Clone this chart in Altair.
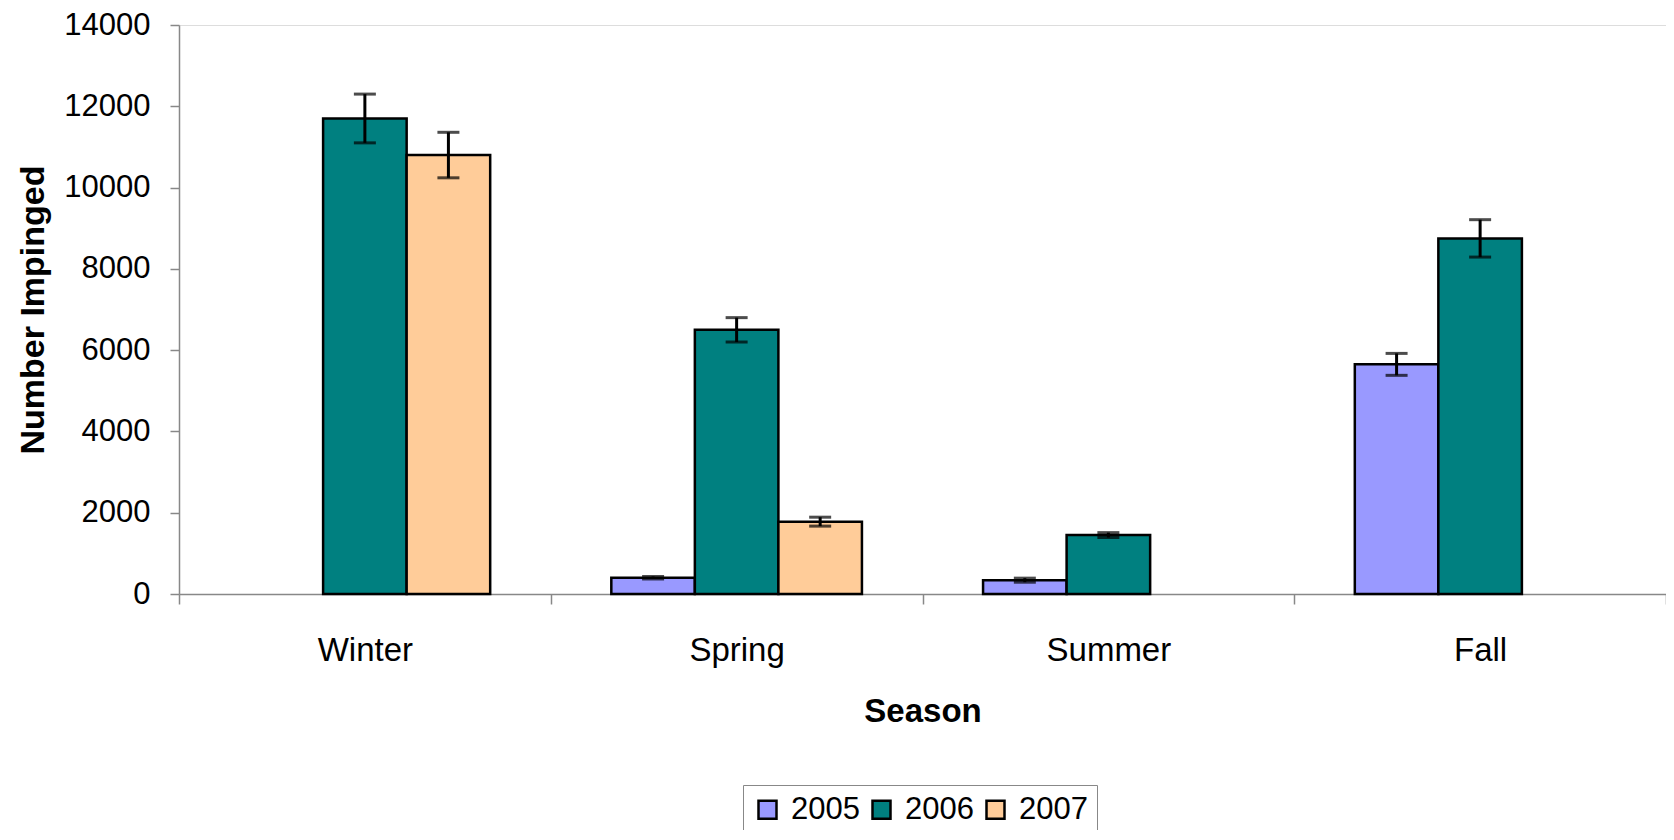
import altair as alt
import pandas as pd

seasons = ["Winter", "Spring", "Summer", "Fall"]
years = ["2005", "2006", "2007"]
colors = ["#9999FF", "#008080", "#FFCC99"]

v2005 = [None, 400, 340, 5650]
v2006 = [11700, 6500, 1450, 8750]
v2007 = [10800, 1780, None, None]
e2005 = [None, 30, 50, 270]
e2006 = [600, 300, 60, 460]
e2007 = [560, 110, None, None]

rows = []
for yr, vals, errs in [("2005", v2005, e2005), ("2006", v2006, e2006), ("2007", v2007, e2007)]:
    for s, v, e in zip(seasons, vals, errs):
        if v is None:
            continue
        rows.append({"Season": s, "Year": yr, "Value": v, "lo": v - e, "hi": v + e})
df = pd.DataFrame(rows)

FONT = "Liberation Sans"

x = alt.X("Season:N", sort=seasons,
          scale=alt.Scale(paddingInner=0, paddingOuter=0),
          axis=alt.Axis(title="Season", labelAngle=0, tickBand="extent", tickSize=10,
                        labelPadding=30, labelFontSize=33, labelFont=FONT, labelColor="#000",
                        titleFontSize=33, titleFont=FONT, titleFontWeight="bold", titleColor="#000",
                        titlePadding=28, domainColor="#888", tickColor="#888", domainWidth=1.5, tickWidth=1.5))
xo = alt.XOffset("Year:N", scale=alt.Scale(domain=years, paddingInner=0, paddingOuter=0.725))
y = alt.Y("Value:Q", scale=alt.Scale(domain=[0, 14000], nice=False),
          axis=alt.Axis(title="Number Impinged", values=list(range(0, 14001, 2000)), format="d",
                        tickSize=9, labelPadding=20, labelFontSize=31, labelFont=FONT, labelColor="#000",
                        titleFontSize=34, titleFont=FONT, titleFontWeight="bold", titleColor="#000",
                        titlePadding=13, domainColor="#888", tickColor="#888", grid=False,
                        domainWidth=1.5, tickWidth=1.5))

bars = alt.Chart(df).mark_bar(stroke="black", strokeWidth=2.5).encode(
    x=x, xOffset=xo, y=y,
    color=alt.Color("Year:N", scale=alt.Scale(domain=years, range=colors),
                    legend=alt.Legend(title=None, orient="none", legendX=564, legendY=760,
                                      direction="horizontal", columns=3, symbolType="square",
                                      symbolSize=324, symbolStrokeColor="black", symbolStrokeWidth=2.5,
                                      labelFontSize=31, labelFont=FONT, labelColor="#000",
                                      strokeColor="#888", fillColor="white", padding=9,
                                      columnPadding=6, labelOffset=8))
)

rules = alt.Chart(df).mark_rule(color="black", strokeWidth=3).encode(
    x=alt.X("Season:N", sort=seasons), xOffset=alt.XOffset("Year:N"),
    y=alt.Y("lo:Q"), y2="hi:Q")
caps_hi = alt.Chart(df).mark_tick(color="black", thickness=3, size=22, orient="horizontal").encode(
    x=alt.X("Season:N", sort=seasons), xOffset=alt.XOffset("Year:N"), y=alt.Y("hi:Q"))
caps_lo = alt.Chart(df).mark_tick(color="black", thickness=3, size=22, orient="horizontal").encode(
    x=alt.X("Season:N", sort=seasons), xOffset=alt.XOffset("Year:N"), y=alt.Y("lo:Q"))

chart = alt.layer(bars, rules, caps_hi, caps_lo).properties(
    width=1487, height=569,
    autosize=alt.AutoSizeParams(type="none"),
    padding={"left": 171, "top": 17, "right": 0, "bottom": 236},
).configure_view(stroke=None).configure(background="white")

chart.save("out.html", embed_options={"renderer": "svg", "actions": False})
